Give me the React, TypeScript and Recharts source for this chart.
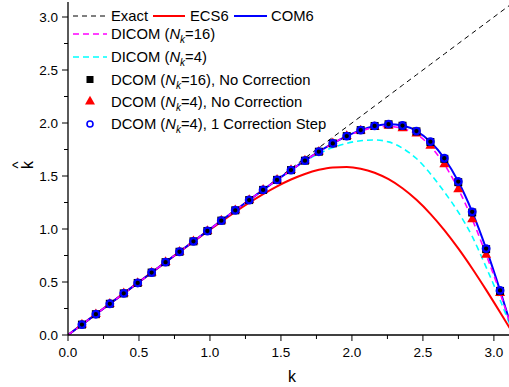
import React from "react";
import { ComposedChart, Line, XAxis, YAxis } from "recharts";

// k = n*pi/32, n = 0..32
const kValues = [
  0, 0.0982, 0.1963, 0.2945, 0.3927, 0.4909, 0.589, 0.6872, 0.7854, 0.8836, 0.9817,
  1.0799, 1.1781, 1.2763, 1.3744, 1.4726, 1.5708, 1.669, 1.7671, 1.8653, 1.9635,
  2.0617, 2.1598, 2.258, 2.3562, 2.4544, 2.5525, 2.6507, 2.7489, 2.8471, 2.9452,
  3.0434, 3.1416,
];

const ecs6 = [
  0, 0.0982, 0.1963, 0.2945, 0.3927, 0.4907, 0.5889, 0.6868, 0.7842, 0.881, 0.9766,
  1.0702, 1.1609, 1.2476, 1.3287, 1.4023, 1.4667, 1.5194, 1.5583, 1.5809, 1.5852,
  1.5691, 1.5309, 1.4695, 1.3842, 1.2752, 1.1432, 0.9897, 0.817, 0.6279, 0.426,
  0.2152, 0,
];

const com6 = [
  0, 0.0982, 0.1963, 0.2945, 0.3927, 0.4909, 0.589, 0.6872, 0.7853, 0.8834, 0.9813,
  1.079, 1.1763, 1.273, 1.3689, 1.4634, 1.5556, 1.6447, 1.7293, 1.8075, 1.8766,
  1.9332, 1.9727, 1.9893, 1.9758, 1.9237, 1.8239, 1.6675, 1.4476, 1.162, 0.8153,
  0.4209, 0,
];

const dicom16 = [
  0, 0.0982, 0.1963, 0.2945, 0.3927, 0.4909, 0.589, 0.6872, 0.7853, 0.8834, 0.9813,
  1.079, 1.1763, 1.273, 1.3689, 1.4634, 1.5556, 1.6447, 1.7293, 1.8075, 1.8766,
  1.925, 1.958, 1.968, 1.948, 1.895, 1.782, 1.61, 1.378, 1.092, 0.758, 0.398, 0,
];

const dicom4 = [
  0, 0.0982, 0.1963, 0.2945, 0.3927, 0.4909, 0.589, 0.6872, 0.7853, 0.8834, 0.9813,
  1.079, 1.1763, 1.273, 1.3689, 1.4634, 1.5556, 1.64, 1.712, 1.768, 1.808, 1.833,
  1.84, 1.822, 1.762, 1.665, 1.522, 1.35, 1.16, 0.93, 0.64, 0.33, 0,
];

// markers, n = 1..31
const dcom16NoCorr = [
  0.0982, 0.1963, 0.2945, 0.3927, 0.4909, 0.589, 0.6872, 0.7853, 0.8834, 0.9813,
  1.079, 1.1763, 1.273, 1.3689, 1.4634, 1.5556, 1.6447, 1.7293, 1.8075, 1.8766,
  1.933, 1.972, 1.988, 1.9745, 1.921, 1.821, 1.662, 1.442, 1.156, 0.81, 0.416,
];

const dcom4NoCorr = [
  0.0982, 0.1963, 0.2945, 0.3927, 0.4909, 0.589, 0.6872, 0.7853, 0.8834, 0.9813,
  1.079, 1.1763, 1.273, 1.3689, 1.4634, 1.5556, 1.6447, 1.7293, 1.8075, 1.8766,
  1.928, 1.962, 1.972, 1.95, 1.9, 1.785, 1.61, 1.375, 1.09, 0.755, 0.395,
];

const dcom4Corr = [
  0.0982, 0.1963, 0.2945, 0.3927, 0.4909, 0.589, 0.6872, 0.7853, 0.8834, 0.9813,
  1.079, 1.1763, 1.273, 1.3689, 1.4634, 1.5556, 1.6447, 1.7293, 1.8075, 1.8766,
  1.9332, 1.9727, 1.9893, 1.9758, 1.9237, 1.8239, 1.6675, 1.4476, 1.162, 0.8153, 0.4209,
];

const axisTicks = [0, 0.25, 0.5, 0.75, 1, 1.25, 1.5, 1.75, 2, 2.25, 2.5, 2.75, 3];

const marker = (arr: number[], i: number) => (i >= 1 && i <= arr.length ? arr[i - 1] : null);

const data = kValues.map((k, i) => ({
  k,
  exact: k,
  ecs6: ecs6[i],
  com6: com6[i],
  dicom16: dicom16[i],
  dicom4: dicom4[i],
  sq: marker(dcom16NoCorr, i),
  tri: marker(dcom4NoCorr, i),
  circ: marker(dcom4Corr, i),
}));

const FONT = "'Liberation Sans', Arial, sans-serif";
const PLOT_LEFT = 68;
const PLOT_TOP = 2;
const PLOT_BOTTOM = 335;

const isMajor = (v: number) => Math.abs(v * 2 - Math.round(v * 2)) < 1e-6;

const XTick = (props: any) => {
  const { x, payload } = props;
  const major = isMajor(payload.value);
  return (
    <g>
      <line x1={x} x2={x} y1={PLOT_BOTTOM} y2={PLOT_BOTTOM + (major ? 6 : 4)} stroke="#000" />
      {major && (
        <text x={x} y={357} textAnchor="middle" fontSize={13.5} fontFamily={FONT} fill="#000">
          {payload.value.toFixed(1)}
        </text>
      )}
    </g>
  );
};

const TopTick = (props: any) => {
  const { x, payload } = props;
  const major = isMajor(payload.value);
  return <line x1={x} x2={x} y1={PLOT_TOP} y2={PLOT_TOP + (major ? 4 : 3)} stroke="#000" />;
};

const YTick = (props: any) => {
  const { y, payload } = props;
  const major = isMajor(payload.value);
  return (
    <g>
      <line x1={PLOT_LEFT - (major ? 6 : 4)} x2={PLOT_LEFT} y1={y} y2={y} stroke="#000" />
      {major && (
        <text x={58} y={y + 4.8} textAnchor="end" fontSize={13.5} fontFamily={FONT} fill="#000">
          {payload.value.toFixed(1)}
        </text>
      )}
    </g>
  );
};

const Square = ({ cx, cy, s = 8 }: any) => (
  <rect x={cx - s / 2} y={cy - s / 2} width={s} height={s} fill="#000" />
);
const Triangle = ({ cx, cy, s = 10 }: any) => {
  const h = s * 0.87;
  return (
    <polygon
      points={`${cx},${cy - (2 * h) / 3} ${cx - s / 2},${cy + h / 3} ${cx + s / 2},${cy + h / 3}`}
      fill="#ff0000"
    />
  );
};
const Circle = ({ cx, cy, r = 3.3, w = 2.3 }: any) => (
  <circle cx={cx} cy={cy} r={r} fill="none" stroke="#0000ff" strokeWidth={w} />
);

const dotFn = (Shape: any) => (props: any) => {
  const { cx, cy, index, value } = props;
  if (value == null || cy == null || isNaN(cy)) return <g key={index} />;
  return (
    <g key={index}>
      <Shape cx={cx} cy={cy} />
    </g>
  );
};

const Sub = ({ n }: { n: string }) => (
  <>
    (<tspan fontStyle="italic">N</tspan>
    <tspan fontStyle="italic" fontSize={10} dy={4}>
      k
    </tspan>
    <tspan dy={-4}>={n})</tspan>
  </>
);

function Overlay() {
  const tx = 111;
  const t = { fontSize: 14.8, fontFamily: FONT, fill: "#000" };
  return (
    <svg
      width={509}
      height={387}
      style={{ position: "absolute", left: 0, top: 0, pointerEvents: "none" }}
    >
      {/* row 1 */}
      <line x1={73} x2={105} y1={16} y2={16} stroke="#000" strokeDasharray="5 4" />
      <text x={tx} y={21} {...t}>Exact</text>
      <line x1={153} x2={185} y1={16} y2={16} stroke="#ff0000" strokeWidth={2} />
      <text x={190} y={21} {...t}>ECS6</text>
      <line x1={234} x2={267} y1={16} y2={16} stroke="#0000ff" strokeWidth={2} />
      <text x={271} y={21} {...t}>COM6</text>
      {/* row 2 */}
      <line x1={73} x2={107} y1={34} y2={34} stroke="#ff00ff" strokeWidth={1.6} strokeDasharray="6 4" />
      <text x={tx} y={39} {...t}>
        DICOM <Sub n="16" />
      </text>
      {/* row 3 */}
      <line x1={73} x2={107} y1={57} y2={57} stroke="#00ffff" strokeWidth={1.6} strokeDasharray="6 4" />
      <text x={tx} y={62} {...t}>
        DICOM <Sub n="4" />
      </text>
      {/* row 4 */}
      <Square cx={90} cy={79.5} s={7} />
      <text x={tx} y={84.5} {...t}>
        DCOM <Sub n="16" />, No Correction
      </text>
      {/* row 5 */}
      <Triangle cx={90} cy={101.5} s={10} />
      <text x={tx} y={106.5} {...t}>
        DCOM <Sub n="4" />, No Correction
      </text>
      {/* row 6 */}
      <Circle cx={90} cy={124} r={3} w={1.6} />
      <text x={tx} y={129} {...t}>
        DCOM <Sub n="4" />, 1 Correction Step
      </text>
      {/* axis titles */}
      <text x={292} y={382} textAnchor="middle" fontSize={16} fontFamily={FONT} fill="#000">
        k
      </text>
      <g transform="translate(27,165) rotate(-90)">
        <text x={0} y={6} textAnchor="middle" fontSize={16} fontFamily={FONT} fill="#000">
          k
        </text>
        <text x={0} y={-4.3} textAnchor="middle" fontSize={15} fontFamily={FONT} fill="#000">
          ^
        </text>
      </g>
    </svg>
  );
}

export default function App() {
  return (
    <div
      style={{
        position: "absolute",
        left: 0,
        top: 0,
        width: 509,
        height: 387,
        overflow: "hidden",
        background: "#fff",
      }}
    >
      <ComposedChart
        width={520}
        height={387}
        data={data}
        margin={{ top: PLOT_TOP, right: 6, left: 0, bottom: 0 }}
      >
        <XAxis
          dataKey="k"
          type="number"
          domain={[0, Math.PI]}
          ticks={axisTicks}
          allowDataOverflow
          height={52}
          tickLine={false}
          tick={<XTick />}
          axisLine={{ stroke: "#000", strokeWidth: 1.3 }}
        />
        <XAxis
          xAxisId="top"
          dataKey="k"
          type="number"
          orientation="top"
          domain={[0, Math.PI]}
          ticks={axisTicks}
          allowDataOverflow
          height={0}
          tickLine={false}
          tick={<TopTick />}
          axisLine={{ stroke: "#000", strokeWidth: 1.3 }}
        />
        <YAxis
          type="number"
          domain={[0, Math.PI]}
          ticks={axisTicks}
          allowDataOverflow
          width={PLOT_LEFT}
          tickLine={false}
          tick={<YTick />}
          axisLine={{ stroke: "#000", strokeWidth: 1.3 }}
        />
        <Line dataKey="exact" type="linear" stroke="#000" strokeWidth={1} strokeDasharray="5 4" dot={false} isAnimationActive={false} />
        <Line dataKey="dicom4" type="monotone" stroke="#00ffff" strokeWidth={1.6} strokeDasharray="6 4" dot={false} isAnimationActive={false} />
        <Line dataKey="ecs6" type="monotone" stroke="#ff0000" strokeWidth={2} dot={false} isAnimationActive={false} />
        <Line dataKey="com6" type="monotone" stroke="#0000ff" strokeWidth={2} dot={false} isAnimationActive={false} />
        <Line dataKey="dicom16" type="monotone" stroke="#ff00ff" strokeWidth={1.6} strokeDasharray="6 4" dot={false} isAnimationActive={false} />
        <Line dataKey="tri" stroke="none" dot={dotFn(Triangle)} activeDot={false} isAnimationActive={false} />
        <Line dataKey="sq" stroke="none" dot={dotFn(Square)} activeDot={false} isAnimationActive={false} />
        <Line dataKey="circ" stroke="none" dot={dotFn(Circle)} activeDot={false} isAnimationActive={false} />
      </ComposedChart>
      <Overlay />
    </div>
  );
}
